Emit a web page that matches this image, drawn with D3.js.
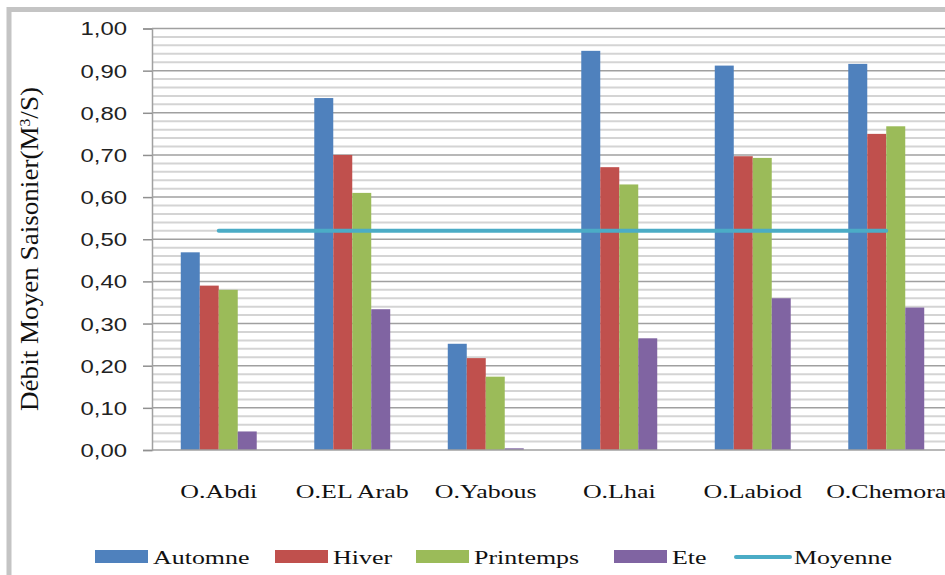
<!DOCTYPE html>
<html><head><meta charset="utf-8">
<script src="https://cdn.jsdelivr.net/npm/d3@7"></script>
<style>body{margin:0;background:#fff}svg{display:block}
.serif{font-family:'Liberation Serif','DejaVu Serif',serif}
.sans{font-family:'Liberation Sans','DejaVu Sans',sans-serif}
</style>
</head><body>
<script>
const categories = ["O.Abdi","O.EL Arab","O.Yabous","O.Lhai","O.Labiod","O.Chemora"];
const seriesNames = ["Automne","Hiver","Printemps","Ete"];
const automne   = [0.469,0.835,0.252,0.947,0.912,0.916];
const hiver     = [0.390,0.700,0.218,0.671,0.697,0.750];
const printemps = [0.380,0.610,0.174,0.630,0.693,0.768];
const ete       = [0.044,0.334,0.004,0.265,0.360,0.338];
const moyenne   = [0.52,0.52,0.52,0.52,0.52,0.52];
const yTicks = [0,0.1,0.2,0.3,0.4,0.5,0.6,0.7,0.8,0.9,1.0];
const colors = ["#4F81BD","#C0504D","#9BBB59","#8064A2"];
const lineColor = "#4BACC6";
const series = [automne,hiver,printemps,ete];

const W=945,H=575, SX=1.33;
const svg=d3.select("body").append("svg").attr("width",W).attr("height",H);
svg.append("rect").attr("width",W).attr("height",H).attr("fill","#fff");
svg.append("rect").attr("x",9).attr("y",9.5).attr("width",W+20).attr("height",H+20)
  .attr("fill","none").attr("stroke","#c4c4c4").attr("stroke-width",5);

const x0=152, x1=953, yTop=28.5, yBot=450;
const y=d3.scaleLinear().domain([0,1]).range([yBot,yTop]);
const pi=0.431;
const xb=d3.scaleBand().domain(categories).range([x0,x1]).paddingInner(pi).paddingOuter(pi/2);
const xs=d3.scaleBand().domain(seriesNames).range([0,xb.bandwidth()]);

// grid
const minor=d3.range(0,51).map(i=>i*0.02);
svg.append("g").selectAll("line").data(minor.filter((d,i)=>i%5!==0)).join("line")
  .attr("x1",x0).attr("x2",W).attr("y1",d=>y(d)).attr("y2",d=>y(d))
  .attr("stroke","#d4d4d4").attr("stroke-width",2);
svg.append("g").selectAll("line").data(yTicks.slice(1)).join("line")
  .attr("x1",x0).attr("x2",W).attr("y1",d=>y(d)).attr("y2",d=>y(d))
  .attr("stroke","#a0a0a0").attr("stroke-width",1.5);

// y axis
const yAxis=d3.axisLeft(y).tickValues(yTicks).tickSize(9).tickPadding(0)
  .tickFormat(d=>d3.format(".2f")(d).replace(".",","));
const ga=svg.append("g").attr("transform",`translate(${x0},0)`).call(yAxis);
ga.attr("font-family",null).attr("font-size",null);
ga.select(".domain").attr("stroke","#a0a0a0").attr("stroke-width",1.5);
ga.selectAll(".tick line").attr("stroke","#909090").attr("stroke-width",1.5);
ga.selectAll(".tick text").attr("class","sans")
  .attr("font-size",18).attr("fill","#222").attr("x",0).attr("dy","0.36em")
  .attr("transform",`translate(-25,0) scale(${SX},1)`);

// bars
const g=svg.append("g");
series.forEach((vals,si)=>{
  g.append("g").selectAll("rect").data(vals).join("rect")
    .attr("x",(d,i)=>xb(categories[i])+xs(seriesNames[si]))
    .attr("width",xs.bandwidth())
    .attr("y",d=>y(d)).attr("height",d=>yBot-y(d))
    .attr("fill",colors[si]);
});
svg.append("line").attr("x1",x0).attr("x2",W).attr("y1",yBot).attr("y2",yBot)
  .attr("stroke","#a0a0a0").attr("stroke-width",1.5);

// moyenne line
const line=d3.line().x((d,i)=>xb(categories[i])+xb.bandwidth()/2).y(d=>y(d));
svg.append("path").datum(moyenne).attr("d",line).attr("fill","none")
  .attr("stroke",lineColor).attr("stroke-width",4).attr("stroke-linecap","round");

// category labels
svg.append("g").selectAll("text").data(categories).join("text").attr("class","serif")
  .attr("transform",d=>`translate(${xb(d)+xb.bandwidth()/2},498) scale(${SX},1)`)
  .attr("text-anchor","middle")
  .attr("font-size",19.5).attr("fill","#111").text(d=>d);

// y title
const yt=svg.append("text").attr("class","serif").attr("transform","translate(38,249) rotate(-90)")
  .attr("text-anchor","middle")
  .attr("font-size",26).attr("fill","#111").attr("textLength",324).attr("lengthAdjust","spacingAndGlyphs");
yt.append("tspan").text("Débit Moyen Saisonier(M");
yt.append("tspan").attr("baseline-shift","super").attr("font-size",15).text("3");
yt.append("tspan").text("/S)");

// legend
const legend=[
  {name:"Automne",x:95,type:"rect",c:colors[0]},
  {name:"Hiver",x:275,type:"rect",c:colors[1]},
  {name:"Printemps",x:416,type:"rect",c:colors[2]},
  {name:"Ete",x:614,type:"rect",c:colors[3]},
  {name:"Moyenne",x:736,type:"line",c:lineColor}];
const lg=svg.append("g");
legend.forEach(l=>{
  if(l.type==="rect") lg.append("rect").attr("x",l.x).attr("y",550).attr("width",53).attr("height",13).attr("fill",l.c);
  else lg.append("line").attr("x1",l.x).attr("x2",l.x+54).attr("y1",557).attr("y2",557).attr("stroke",l.c).attr("stroke-width",4).attr("stroke-linecap","round");
  lg.append("text").attr("class","serif").attr("transform",`translate(${l.x+58},564) scale(${SX},1)`)
    .attr("font-size",19.5).attr("fill","#111").text(l.name);
});
</script>
</body></html>
